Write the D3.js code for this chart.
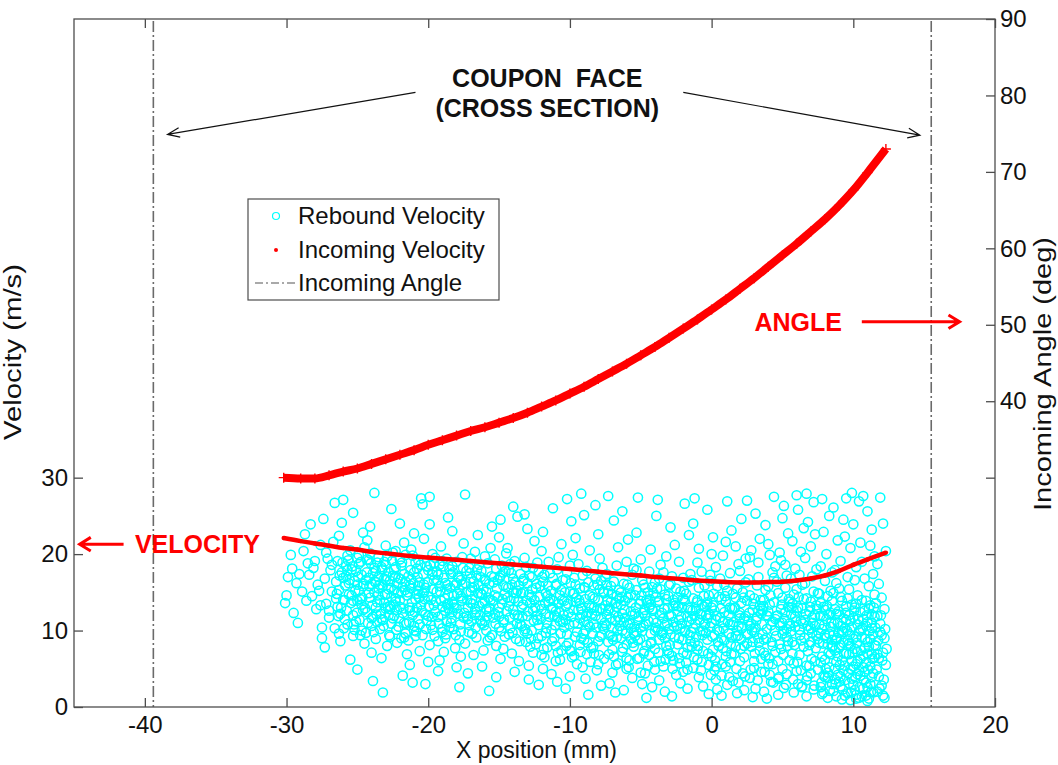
<!DOCTYPE html>
<html>
<head>
<meta charset="utf-8">
<script src="https://cdn.jsdelivr.net/npm/d3@7"></script>
<style>
  body { margin: 0; background: #fff; }
  text { font-family: Arial, "Liberation Sans", sans-serif; fill: #111; }
  .tick text { font-size: 24px; }
</style>
</head>
<body>
<svg width="1058" height="765"></svg>
<script>

//tick values for the axes
const xTicks = [-40, -30, -20, -10, 0, 10, 20];
const velocityTicks = [0, 10, 20, 30];
const angleTicks = [10, 20, 30, 40, 50, 60, 70, 80, 90];
const angleLabelMin = 40;

//coupon face edges (mm)
const couponEdges = [-39.4, 15.5];

//incoming velocity and angle
const incomingX = [-30.2, -29, -28, -27, -26, -25, -24, -23, -22, -21, -20, -19, -18, -17, -16, -15, -14, -13, -12, -11,
  -10, -9, -8, -7, -6, -5, -4, -3, -2, -1, 0, 1, 2, 3, 4, 5, 6, 7, 8, 9, 10, 11, 12.3];
const incomingVelocity = [22.1, 21.7, 21.4, 21.1, 20.8, 20.6, 20.3, 20.1, 19.9, 19.7, 19.55, 19.4, 19.25, 19.1, 18.95, 18.8,
  18.65, 18.5, 18.35, 18.2, 18.05, 17.9, 17.7, 17.5, 17.35, 17.2, 17.0, 16.85, 16.7, 16.55, 16.45, 16.35, 16.3, 16.3,
  16.35, 16.4, 16.55, 16.8, 17.2, 17.8, 18.6, 19.3, 20.2];
const incomingAngle = [30.0, 29.9, 29.9, 30.3, 30.8, 31.2, 31.8, 32.4, 33.0, 33.6, 34.3, 34.9, 35.5, 36.1, 36.6, 37.2, 37.8,
  38.5, 39.3, 40.1, 41.0, 41.9, 42.9, 43.9, 44.9, 46.0, 47.1, 48.3, 49.5, 50.7, 52.0, 53.3, 54.7, 56.1, 57.6, 59.1, 60.6,
  62.2, 63.8, 65.6, 67.6, 69.9, 73.0];

//rebound velocity points [x (mm), velocity (m/s)]
const rebound = [
[-30.1,13.6],[-30.0,14.6],[-29.9,17.0],[-29.7,19.9],[-29.6,18.1],[-29.5,12.3],
[-29.3,16.2],[-29.1,17.4],[-28.9,15.1],[-28.8,20.4],[-28.6,13.9],[-28.5,18.8],[-29.2,11.0],[-28.7,22.6],
[-28.4,17.3],[-28.2,14.5],[-28.0,19.1],[-27.9,12.8],[-27.8,16.0],[-27.6,21.2],[-27.5,10.4],[-28.3,23.9],[-27.7,15.2],[-28.1,18.2],[-27.6,13.3],[-27.5,9.0],
[-27.4,24.6],[-27.3,16.8],[-27.2,13.5],[-27.1,19.4],[-27.0,11.7],[-26.9,17.9],[-26.8,15.1],[-26.7,21.6],[-26.6,26.7],[-26.5,14.2],[-27.3,7.8],[-27.0,12.6],[-26.8,18.6],[-26.6,10.3],[-26.5,16.4],[-27.2,20.2],
[-26.4,19.1],[-26.3,15.3],[-26.2,12.2],[-26.1,17.6],[-26.0,27.1],[-25.9,14.0],[-25.8,18.4],[-25.7,10.8],[-25.6,16.2],[-25.5,20.5],[-26.4,13.1],[-26.2,8.6],[-26.0,16.9],[-25.9,11.5],[-25.7,19.8],[-25.6,14.7],[-25.5,6.2],[-26.3,22.4],[-25.8,17.1],[-26.1,24.1],
[-25.4,18.0],[-25.3,13.9],[-25.2,16.5],[-25.1,11.2],[-25.0,19.5],[-24.9,15.2],[-24.8,9.4],[-24.7,17.3],[-24.6,12.7],[-24.5,20.9],[-25.4,14.6],[-25.2,10.1],[-25.0,16.0],[-24.9,18.7],[-24.7,13.4],[-24.6,22.8],[-24.5,8.3],[-25.3,25.4],[-25.1,17.8],[-24.8,14.1],[-25.0,4.9],[-24.6,15.8],[-25.3,12.0],[-24.9,19.9],
[-24.4,16.6],[-24.3,12.4],[-24.2,19.2],[-24.1,14.3],[-24.0,10.6],[-23.9,17.5],[-23.8,28.0],[-23.7,13.0],[-23.6,18.9],[-23.5,15.5],[-24.4,9.7],[-24.2,14.9],[-24.1,20.1],[-24.0,16.1],[-23.9,11.8],[-23.8,18.2],[-23.7,8.9],[-23.6,13.7],[-23.5,17.0],[-24.3,21.8],[-24.0,7.1],[-23.8,15.0],[-23.6,11.1],[-23.5,19.6],[-24.2,16.9],[-23.9,3.4],[-24.1,23.6],[-23.7,16.3],
[-23.4,14.0],[-23.3,18.3],[-23.2,11.4],[-23.1,16.8],[-23.0,12.9],[-22.9,19.7],[-22.8,15.4],[-22.7,9.2],[-22.6,25.9],[-22.5,17.2],[-23.4,10.2],[-23.2,15.9],[-23.1,13.6],[-23.0,18.6],[-22.9,8.0],[-22.8,12.0],[-22.7,16.5],[-22.6,14.4],[-22.5,20.2],[-23.3,6.4],[-23.0,21.1],[-22.8,17.7],[-22.6,10.9],[-23.2,1.9],[-22.9,14.8],[-23.1,19.0],[-22.7,13.2],[-22.5,11.6],
[-22.4,18.0],[-22.3,13.8],[-22.2,16.2],[-22.1,10.5],[-22.0,19.3],[-21.9,15.0],[-21.8,12.3],[-21.7,17.4],[-21.6,9.6],[-21.5,14.6],[-22.4,11.9],[-22.3,20.4],[-22.2,8.4],[-22.1,16.9],[-22.0,13.1],[-21.9,18.5],[-21.8,15.7],[-21.7,11.0],[-21.6,19.9],[-21.5,6.9],[-22.3,14.2],[-22.0,24.0],[-21.8,4.1],[-21.6,16.4],[-22.2,12.7],[-21.9,9.0],[-21.7,21.5],[-22.4,15.3],
[-21.4,17.1],[-21.3,12.6],[-21.2,15.5],[-21.1,19.8],[-21.0,10.0],[-20.9,14.1],[-20.8,18.1],[-20.7,11.5],[-20.6,16.3],[-20.5,13.4],[-21.4,8.7],[-21.3,15.9],[-21.2,20.6],[-21.1,12.0],[-21.0,17.6],[-20.9,9.3],[-20.8,14.8],[-20.7,19.2],[-20.6,10.8],[-20.5,27.3],[-21.3,5.5],[-21.0,22.7],[-20.8,13.0],[-20.6,7.3],[-21.2,16.7],[-20.9,18.9],[-21.1,3.2],[-20.7,15.2],
[-20.4,26.5],[-20.3,16.0],[-20.2,12.1],[-20.1,18.4],[-20.0,14.5],[-19.9,27.5],[-19.8,10.7],[-19.7,17.3],[-19.6,13.3],[-19.5,19.5],[-20.4,9.4],[-20.2,15.6],[-20.1,11.3],[-20.0,17.9],[-19.9,8.1],[-19.8,14.0],[-19.7,20.0],[-19.6,16.6],[-19.5,12.4],[-20.3,22.0],[-20.0,5.9],[-19.7,10.1],[-19.9,23.9],[-20.2,3.0],[-19.6,18.8],[-20.4,14.9],
[-19.4,15.1],[-19.3,11.8],[-19.2,18.6],[-19.1,13.9],[-19.0,9.8],[-18.9,16.9],[-18.8,12.6],[-18.7,19.4],[-18.6,14.7],[-18.5,10.4],[-19.4,17.7],[-19.3,8.6],[-19.2,15.8],[-19.1,21.0],[-19.0,13.1],[-18.9,7.2],[-18.8,16.2],[-18.7,11.2],[-18.6,24.8],[-18.5,18.0],[-19.3,4.7],[-19.0,19.1],[-18.8,9.0],[-18.6,13.5],[-19.2,6.1],[-18.7,15.4],
[-18.4,17.4],[-18.3,13.7],[-18.2,10.2],[-18.1,15.9],[-18.0,19.0],[-17.9,12.2],[-17.8,8.8],[-17.7,16.6],[-17.6,14.2],[-17.5,21.4],[-18.4,11.0],[-18.3,18.4],[-18.2,14.6],[-18.1,7.7],[-18.0,12.9],[-17.9,17.1],[-17.8,15.3],[-17.7,9.9],[-17.6,19.6],[-17.5,11.7],[-18.3,23.0],[-18.0,5.2],[-17.8,2.6],[-17.6,16.0],[-18.2,13.4],[-17.7,6.6],
[-17.4,27.8],[-17.3,15.0],[-17.2,11.5],[-17.1,18.2],[-17.0,13.6],[-16.9,9.6],[-16.8,16.4],[-16.7,20.3],[-16.6,12.4],[-16.5,14.9],[-17.4,8.3],[-17.3,17.8],[-17.2,13.0],[-17.1,10.7],[-17.0,19.4],[-16.9,15.6],[-16.8,6.8],[-16.7,12.0],[-16.6,17.2],[-16.5,22.5],[-17.2,4.4],[-16.9,14.1],[-16.6,9.1],[-17.0,16.8],
[-16.4,13.2],[-16.3,17.0],[-16.2,10.9],[-16.1,15.4],[-16.0,19.7],[-15.9,12.8],[-15.8,8.7],[-15.7,16.1],[-15.6,14.0],[-15.5,23.6],[-16.4,18.6],[-16.3,11.3],[-16.2,14.7],[-16.1,7.4],[-16.0,16.7],[-15.9,10.0],[-15.8,18.8],[-15.7,12.5],[-15.6,20.8],[-15.5,9.4],[-16.2,5.3],[-15.9,15.1],[-15.7,2.1],[-16.0,13.8],
[-15.4,16.3],[-15.3,12.2],[-15.2,18.1],[-15.1,14.4],[-15.0,10.4],[-14.9,24.5],[-14.8,13.5],[-14.7,17.6],[-14.6,9.2],[-14.5,15.7],[-15.4,11.7],[-15.3,19.3],[-15.2,8.0],[-15.1,16.6],[-15.0,13.0],[-14.9,6.3],[-14.8,18.5],[-14.7,11.1],[-14.6,14.8],[-14.5,20.1],[-15.2,3.9],[-14.9,17.2],[-14.7,7.6],[-15.0,22.2],
[-14.4,14.3],[-14.3,17.9],[-14.2,10.3],[-14.1,16.0],[-14.0,12.7],[-13.9,19.1],[-13.8,8.9],[-13.7,15.2],[-13.6,11.6],[-13.5,17.4],[-14.4,20.8],[-14.3,9.5],[-14.2,13.9],[-14.1,7.0],[-14.0,16.8],[-13.9,12.1],[-13.8,14.9],[-13.7,24.9],[-13.6,6.0],[-13.5,10.8],[-14.2,18.7],[-13.9,4.6],[-13.6,15.9],[-14.0,26.2],
[-13.4,13.1],[-13.3,16.5],[-13.2,9.9],[-13.1,18.3],[-13.0,11.9],[-12.9,14.7],[-12.8,7.9],[-12.7,17.0],[-12.6,12.6],[-12.5,21.7],[-13.4,10.6],[-13.3,15.0],[-13.2,19.5],[-13.1,8.5],[-13.0,16.2],[-12.9,5.4],[-12.8,13.6],[-12.7,10.0],[-12.6,18.2],[-12.5,14.0],[-13.2,25.2],[-12.9,3.6],[-12.6,7.1],[-13.0,23.3],
[-12.4,15.6],[-12.3,11.4],[-12.2,17.7],[-12.1,13.3],[-12.0,9.3],[-11.9,16.4],[-11.8,6.5],[-11.7,12.2],[-11.6,14.5],[-11.5,19.0],[-12.4,8.2],[-12.3,18.9],[-12.2,10.7],[-12.1,15.8],[-12.0,12.8],[-11.9,5.0],[-11.8,17.3],[-11.7,9.7],[-11.6,11.0],[-11.5,13.8],[-12.2,2.9],[-11.9,22.9],[-11.6,7.8],[-12.0,20.4],
[-11.4,14.2],[-11.3,10.1],[-11.2,16.9],[-11.1,12.0],[-11.0,8.0],[-10.9,18.0],[-10.8,13.5],[-10.7,6.2],[-10.6,15.3],[-10.5,11.1],[-11.4,17.5],[-11.3,4.3],[-11.2,13.0],[-11.1,9.0],[-11.0,15.9],[-10.9,11.7],[-10.8,19.6],[-10.7,14.6],[-10.6,7.4],[-10.5,16.6],[-11.2,26.0],[-10.9,3.3],[-10.6,21.3],[-11.0,12.5],
[-10.4,13.9],[-10.3,16.7],[-10.2,9.5],[-10.1,12.3],[-10.0,18.5],[-9.9,7.3],[-9.8,14.8],[-9.7,11.0],[-9.6,16.0],[-9.5,5.6],[-10.4,10.4],[-10.3,13.2],[-10.2,17.6],[-10.1,8.4],[-10.0,15.1],[-9.9,11.8],[-9.8,19.9],[-9.7,6.7],[-9.6,13.7],[-9.5,9.8],[-10.2,27.2],[-9.9,24.3],[-10.3,2.4],[-9.7,16.9],[-10.0,4.0],[-9.6,22.1],
[-9.4,12.7],[-9.3,15.5],[-9.2,9.0],[-9.1,17.2],[-9.0,11.2],[-8.9,14.1],[-8.8,6.9],[-8.7,16.3],[-8.6,10.5],[-8.5,13.0],[-9.4,18.7],[-9.3,8.1],[-9.2,12.9],[-9.1,5.2],[-9.0,15.7],[-8.9,10.0],[-8.8,17.8],[-8.7,12.4],[-8.6,14.6],[-8.5,7.7],[-9.2,27.9],[-8.9,3.7],[-8.6,20.5],[-9.0,25.1],[-8.7,1.6],[-9.3,11.6],
[-8.4,14.4],[-8.3,10.9],[-8.2,16.8],[-8.1,12.6],[-8.0,8.6],[-7.9,15.4],[-7.8,11.5],[-7.7,18.2],[-7.6,6.3],[-7.5,13.3],[-8.4,9.6],[-8.3,15.9],[-8.2,11.9],[-8.1,4.8],[-8.0,14.0],[-7.9,9.2],[-7.8,16.5],[-7.7,12.8],[-7.6,10.2],[-7.5,17.0],[-8.2,26.4],[-7.8,2.8],[-8.0,22.6],[-7.6,14.9],[-8.3,7.0],[-7.9,19.4],
[-7.4,12.1],[-7.3,15.2],[-7.2,9.4],[-7.1,13.8],[-7.0,7.5],[-6.9,16.4],[-6.8,11.3],[-6.7,14.5],[-6.6,5.7],[-6.5,10.6],[-7.4,17.4],[-7.3,8.5],[-7.2,12.9],[-7.1,15.8],[-7.0,10.3],[-6.9,6.6],[-6.8,13.6],[-6.7,18.5],[-6.6,11.8],[-6.5,14.2],[-7.2,3.1],[-6.9,24.4],[-7.3,27.6],[-6.6,20.9],[-7.0,4.5],[-6.7,9.1],[-7.4,16.0],[-6.8,1.9],
[-6.4,13.4],[-6.3,10.0],[-6.2,16.1],[-6.1,11.7],[-6.0,8.2],[-5.9,14.3],[-5.8,6.1],[-5.7,12.5],[-5.6,17.3],[-5.5,9.7],[-6.4,15.0],[-6.3,7.2],[-6.2,11.1],[-6.1,13.9],[-6.0,5.0],[-5.9,10.8],[-5.8,15.6],[-5.7,8.9],[-5.6,12.0],[-5.5,18.1],[-6.2,2.2],[-5.9,21.9],[-6.3,25.6],[-5.6,3.8],[-6.0,19.0],[-5.7,14.7],[-6.4,9.0],[-5.5,7.9],
[-5.4,12.2],[-5.3,15.3],[-5.2,8.7],[-5.1,13.5],[-5.0,10.4],[-4.9,16.6],[-4.8,7.0],[-4.7,11.9],[-4.6,14.0],[-4.5,5.4],[-5.4,9.3],[-5.3,17.9],[-5.2,11.3],[-5.1,6.4],[-5.0,13.9],[-4.9,9.9],[-4.8,16.0],[-4.7,12.7],[-4.6,8.1],[-4.5,15.0],[-5.2,27.4],[-4.9,3.0],[-5.3,22.8],[-4.6,1.2],[-5.0,19.3],[-4.7,4.4],[-5.4,14.6],[-4.8,10.6],
[-4.4,13.0],[-4.3,9.6],[-4.2,15.7],[-4.1,11.4],[-4.0,7.6],[-3.9,14.4],[-3.8,10.1],[-3.7,16.8],[-3.6,6.0],[-3.5,12.3],[-4.4,17.7],[-4.3,8.3],[-4.2,12.8],[-4.1,14.9],[-4.0,4.9],[-3.9,11.0],[-3.8,13.7],[-3.7,8.8],[-3.6,15.4],[-3.5,9.4],[-4.2,2.6],[-3.9,25.0],[-4.3,20.6],[-3.6,18.6],[-4.0,16.3],[-3.7,3.5],[-4.4,6.8],[-3.8,27.1],
[-3.4,11.6],[-3.3,14.7],[-3.2,8.0],[-3.1,12.9],[-3.0,10.2],[-2.9,16.1],[-2.8,6.7],[-2.7,13.2],[-2.6,9.1],[-2.5,15.5],[-3.4,5.3],[-3.3,10.7],[-3.2,14.1],[-3.1,7.4],[-3.0,12.0],[-2.9,9.5],[-2.8,17.1],[-2.7,11.1],[-2.6,13.6],[-2.5,4.2],[-3.2,19.7],[-2.9,23.5],[-3.3,2.0],[-2.6,21.2],[-3.0,15.9],[-2.7,6.1],[-3.4,17.6],[-2.8,1.4],
[-2.4,12.5],[-2.3,9.0],[-2.2,15.1],[-2.1,10.9],[-2.0,7.1],[-1.9,13.9],[-1.8,5.8],[-1.7,11.8],[-1.6,16.4],[-1.5,8.6],[-2.4,14.3],[-2.3,6.4],[-2.2,10.3],[-2.1,13.0],[-2.0,4.6],[-1.9,9.8],[-1.8,14.8],[-1.7,7.8],[-1.6,11.2],[-1.5,17.4],[-2.2,3.1],[-1.9,26.6],[-2.3,19.0],[-1.6,22.5],[-2.0,16.9],[-1.7,2.4],[-2.4,8.2],[-1.5,12.7],
[-1.4,11.5],[-1.3,14.2],[-1.2,8.4],[-1.1,12.8],[-1.0,6.2],[-0.9,15.6],[-0.8,9.9],[-0.7,13.4],[-0.6,7.3],[-0.5,10.8],[-1.4,16.6],[-1.3,5.1],[-1.2,11.9],[-1.1,9.2],[-1.0,14.0],[-0.9,3.9],[-0.8,12.2],[-0.7,17.7],[-0.6,10.0],[-0.5,13.1],[-1.2,27.3],[-0.9,20.7],[-1.3,24.0],[-0.6,2.7],[-1.0,18.9],[-0.7,5.9],[-1.4,7.9],[-0.5,15.9],
[-0.4,12.0],[-0.3,8.8],[-0.2,14.6],[-0.1,10.5],[0.0,6.6],[0.1,13.3],[0.2,4.8],[0.3,11.4],[0.4,15.8],[0.5,8.0],[-0.4,9.7],[-0.3,13.7],[-0.2,5.5],[-0.1,16.5],[0.0,11.0],[0.1,7.5],[0.2,12.6],[0.3,3.6],[0.4,10.1],[0.5,14.4],[-0.2,1.7],[0.1,22.2],[0.3,18.3],[-0.3,25.8],[0.0,20.0],[0.4,2.3],[0.2,9.4],[-0.1,17.3],
[0.6,11.7],[0.7,14.1],[0.8,7.7],[0.9,12.4],[1.0,5.3],[1.1,15.2],[1.2,9.6],[1.3,13.0],[1.4,6.9],[1.5,10.7],[0.6,16.8],[0.7,4.1],[0.8,11.1],[0.9,8.7],[1.0,13.8],[1.1,2.9],[1.2,12.0],[1.3,17.5],[1.4,9.1],[1.5,14.8],[0.8,19.8],[1.1,26.9],[1.4,23.1],[0.7,1.5],[1.0,21.6],[1.3,5.9],[0.9,16.0],[1.5,3.4],
[1.6,12.9],[1.7,9.3],[1.8,15.5],[1.9,10.6],[2.0,6.0],[2.1,13.6],[2.2,4.4],[2.3,11.6],[2.4,16.3],[2.5,8.3],[1.6,7.0],[1.7,14.3],[1.8,10.0],[1.9,3.2],[2.0,12.3],[2.1,8.9],[2.2,15.0],[2.3,6.5],[2.4,11.9],[2.5,13.9],[1.8,1.8],[2.1,24.6],[2.4,19.4],[1.7,21.0],[2.0,17.8],[2.3,2.2],[1.9,18.7],[2.5,27.0],
[2.6,11.3],[2.7,14.6],[2.8,7.9],[2.9,12.7],[3.0,5.1],[3.1,10.4],[3.2,15.9],[3.3,9.0],[3.4,13.2],[3.5,6.3],[2.6,16.7],[2.7,3.8],[2.8,10.9],[2.9,8.5],[3.0,14.2],[3.1,2.4],[3.2,11.8],[3.3,17.0],[3.4,7.4],[3.5,12.2],[2.8,20.5],[3.1,25.3],[3.4,22.0],[2.9,1.3],[3.3,18.9],[3.0,9.8],[2.7,19.6],[3.5,4.6],
[3.6,12.6],[3.7,8.8],[3.8,15.3],[3.9,10.2],[4.0,5.6],[4.1,13.4],[4.2,3.3],[4.3,11.2],[4.4,16.9],[4.5,7.2],[3.6,9.5],[3.7,14.0],[3.8,6.7],[3.9,12.0],[4.0,15.8],[4.1,4.2],[4.2,10.7],[4.3,8.0],[4.4,13.7],[4.5,11.5],[3.8,23.8],[4.1,19.9],[4.4,27.5],[3.7,2.0],[4.0,21.3],[4.3,17.6],[3.9,1.1],[4.5,18.4],
[4.6,11.9],[4.7,14.9],[4.8,8.2],[4.9,12.8],[5.0,5.0],[5.1,10.0],[5.2,15.6],[5.3,9.2],[5.4,13.1],[5.5,6.1],[4.6,16.4],[4.7,3.7],[4.8,11.0],[4.9,7.6],[5.0,14.3],[5.1,2.5],[5.2,12.4],[5.3,17.2],[5.4,8.6],[5.5,10.9],[4.8,20.2],[5.0,24.7],[5.2,18.6],[5.4,22.7],[4.7,1.6],[5.1,26.3],[5.3,4.3],[4.9,19.2],[5.5,13.8],[5.0,9.6],
[5.6,12.1],[5.7,8.5],[5.8,14.7],[5.9,10.5],[6.0,4.7],[6.1,13.0],[6.2,6.8],[6.3,11.3],[6.4,16.0],[6.5,7.9],[5.6,9.9],[5.7,13.5],[5.8,5.7],[5.9,11.8],[6.0,15.4],[6.1,3.0],[6.2,10.1],[6.3,8.7],[6.4,12.9],[6.5,14.1],[5.7,21.7],[5.9,18.1],[6.1,25.8],[6.3,20.3],[6.5,23.4],[5.8,1.9],[6.2,17.3],[6.4,2.7],[6.0,27.7],[5.6,16.8],
[6.6,11.4],[6.7,14.2],[6.8,7.3],[6.9,12.5],[7.0,4.4],[7.1,9.7],[7.2,15.1],[7.3,6.0],[7.4,13.3],[7.5,8.9],[6.6,16.2],[6.7,3.5],[6.8,10.6],[6.9,5.4],[7.0,13.8],[7.1,11.7],[7.2,2.3],[7.3,12.0],[7.4,9.3],[7.5,14.9],[6.6,19.5],[6.8,24.2],[7.0,21.0],[7.2,26.8],[7.4,18.0],[6.7,1.4],[7.1,17.1],[7.3,22.6],[6.9,8.1],[7.5,4.9],[7.0,10.3],[6.7,27.9],
[7.6,10.8],[7.7,13.6],[7.8,6.6],[7.9,11.9],[8.0,3.9],[8.1,9.0],[8.2,14.5],[8.3,5.2],[8.4,12.3],[8.5,7.8],[7.6,8.4],[7.7,2.6],[7.8,10.2],[7.9,13.1],[8.0,6.2],[8.1,11.5],[8.2,4.5],[8.3,9.6],[8.4,15.2],[8.5,3.0],[7.6,14.8],[7.8,1.7],[8.0,12.7],[8.2,8.2],[8.4,10.5],[7.7,18.4],[7.9,22.9],[8.1,20.0],[8.3,25.0],[8.5,17.6],[7.8,27.2],[8.2,1.2],[8.0,16.5],[8.4,6.9],[7.9,4.1],[8.5,13.9],
[8.6,9.4],[8.7,12.8],[8.8,5.9],[8.9,11.0],[9.0,3.3],[9.1,8.1],[9.2,13.9],[9.3,4.8],[9.4,10.3],[9.5,7.0],[8.6,2.1],[8.7,7.4],[8.8,12.2],[8.9,4.2],[9.0,9.7],[9.1,14.4],[9.2,6.1],[9.3,11.6],[9.4,1.5],[9.5,13.2],[8.6,14.9],[8.7,3.6],[8.8,8.8],[8.9,6.6],[9.0,12.1],[9.1,2.7],[9.2,10.0],[9.3,8.4],[9.4,5.4],[9.5,11.4],[8.7,17.9],[8.9,21.8],[9.1,19.1],[9.3,24.5],[9.5,27.3],[8.8,16.2],[9.2,1.0],[9.0,15.5],[9.4,22.3],[8.6,26.1],
[9.6,8.7],[9.7,12.0],[9.8,5.0],[9.9,10.4],[10.0,2.9],[10.1,7.6],[10.2,13.5],[10.3,4.3],[10.4,9.9],[10.5,6.3],[9.6,1.8],[9.7,6.9],[9.8,11.3],[9.9,3.7],[10.0,8.9],[10.1,13.0],[10.2,5.6],[10.3,10.8],[10.4,1.2],[10.5,12.4],[9.6,14.2],[9.7,3.1],[9.8,8.0],[9.9,6.0],[10.0,11.7],[10.1,2.2],[10.2,9.2],[10.3,7.2],[10.4,4.7],[10.5,10.1],[9.6,17.0],[9.8,20.8],[10.0,23.9],[10.2,18.3],[10.4,26.9],[9.7,15.4],[10.1,16.6],[10.3,14.6],[9.9,28.0],[10.5,21.5],[9.8,0.9],[10.2,1.6],
[10.6,9.1],[10.7,11.5],[10.8,4.6],[10.9,10.6],[11.0,2.6],[11.1,7.9],[11.2,13.3],[11.3,3.9],[11.4,9.5],[11.5,6.5],[10.6,1.4],[10.7,6.7],[10.8,12.6],[10.9,3.2],[11.0,8.5],[11.1,12.9],[11.2,5.3],[11.3,10.3],[11.4,1.9],[11.5,11.8],[10.6,14.0],[10.7,2.4],[10.8,7.7],[10.9,5.8],[11.0,11.1],[11.1,1.1],[11.2,8.9],[11.3,6.9],[11.4,4.4],[11.5,14.7],[10.6,19.0],[10.8,16.8],[11.0,25.6],[11.2,21.1],[11.4,17.4],[10.7,27.6],[11.1,15.8],[11.3,23.2],[10.9,13.9],[11.5,19.7],[11.0,0.8],[11.3,12.1],
[11.6,8.0],[11.7,11.9],[11.8,4.0],[11.9,9.8],[12.0,2.8],[12.1,7.1],[12.2,12.8],[12.3,5.5],[11.6,13.6],[11.7,2.0],[11.8,6.4],[11.9,10.9],[12.0,14.3],[12.1,1.5],[12.2,9.0],[11.7,18.7],[11.9,27.4],[12.1,24.0],[12.3,20.4],[11.8,16.1],
//denser core of the cloud
[-26.45,14.8],[-26.35,11.9],[-26.25,17.2],[-26.15,13.0],[-26.05,18.9],[-25.95,10.3],[-25.85,15.9],[-25.75,12.6],[-25.65,19.2],[-25.55,16.6],[-26.3,9.6],[-26.0,14.0],[-25.7,17.9],
[-25.45,13.6],[-25.35,18.4],[-25.25,10.8],[-25.15,15.2],[-25.05,12.3],[-24.95,17.0],[-24.85,11.4],[-24.75,19.0],[-24.65,14.3],[-24.55,16.1],[-25.3,9.3],[-25.0,13.9],[-24.7,10.0],
[-24.45,12.9],[-24.35,17.6],[-24.25,11.0],[-24.15,15.8],[-24.05,18.8],[-23.95,13.3],[-23.85,9.8],[-23.75,16.4],[-23.65,12.1],[-23.55,14.6],[-24.3,19.3],[-24.0,11.6],[-23.7,17.8],
[-23.45,16.0],[-23.35,12.2],[-23.25,18.0],[-23.15,10.6],[-23.05,14.7],[-22.95,17.1],[-22.85,13.1],[-22.75,9.4],[-22.65,15.6],[-22.55,19.1],[-23.3,11.5],[-23.0,16.6],[-22.7,12.8],
[-22.45,13.4],[-22.35,17.0],[-22.25,10.1],[-22.15,14.9],[-22.05,11.6],[-21.95,16.7],[-21.85,18.9],[-21.75,12.9],[-21.65,15.3],[-21.55,10.9],[-22.3,18.3],[-22.0,14.0],[-21.7,9.1],
[-21.45,15.0],[-21.35,11.1],[-21.25,17.9],[-21.15,13.7],[-21.05,16.2],[-20.95,12.4],[-20.85,9.9],[-20.75,17.0],[-20.65,14.3],[-20.55,18.6],[-21.3,13.0],[-21.0,10.6],[-20.7,15.8],
[-20.45,12.6],[-20.35,17.4],[-20.25,14.1],[-20.15,10.2],[-20.05,16.3],[-19.95,13.2],[-19.85,18.6],[-19.75,11.8],[-19.65,15.4],[-19.55,9.3],[-20.3,15.0],[-20.0,11.9],[-19.7,17.7],
[-19.45,13.8],[-19.35,16.6],[-19.25,10.9],[-19.15,15.1],[-19.05,12.0],[-18.95,18.4],[-18.85,14.2],[-18.75,9.5],[-18.65,16.0],[-18.55,12.9],[-19.3,17.3],[-19.0,10.3],[-18.7,13.4],
[-18.45,15.6],[-18.35,11.6],[-18.25,17.6],[-18.15,13.0],[-18.05,9.4],[-17.95,14.8],[-17.85,16.9],[-17.75,10.8],[-17.65,13.9],[-17.55,18.2],[-18.3,12.4],[-18.0,16.2],[-17.7,14.5],
[-17.45,12.3],[-17.35,16.2],[-17.25,14.0],[-17.15,9.8],[-17.05,17.5],[-16.95,11.2],[-16.85,13.5],[-16.75,15.7],[-16.65,10.4],[-16.55,18.0],[-17.3,11.9],[-17.0,15.1],[-16.7,12.8],
[-16.45,15.9],[-16.35,12.0],[-16.25,17.8],[-16.15,13.6],[-16.05,10.7],[-15.95,16.5],[-15.85,11.9],[-15.75,14.3],[-15.65,9.1],[-15.55,17.1],[-16.3,14.9],[-16.0,11.3],[-15.7,13.0],
[-15.45,13.9],[-15.35,17.0],[-15.25,10.9],[-15.15,15.5],[-15.05,12.4],[-14.95,16.9],[-14.85,9.9],[-14.75,14.1],[-14.65,11.4],[-14.55,17.8],[-15.3,14.6],[-15.0,11.8],[-14.7,15.9],
[-14.45,12.5],[-14.35,15.6],[-14.25,11.7],[-14.15,17.5],[-14.05,9.7],[-13.95,14.2],[-13.85,16.3],[-13.75,10.9],[-13.65,13.8],[-13.55,8.6],[-14.3,13.2],[-14.0,15.0],[-13.7,12.0],
[-13.45,14.9],[-13.35,11.8],[-13.25,16.8],[-13.15,10.2],[-13.05,13.9],[-12.95,12.5],[-12.85,17.2],[-12.75,8.9],[-12.65,15.4],[-12.55,11.3],[-13.3,13.4],[-13.0,9.6],[-12.7,14.4],
[-12.45,13.0],[-12.35,16.1],[-12.25,9.0],[-12.15,14.4],[-12.05,11.5],[-11.95,17.0],[-11.85,7.6],[-11.75,13.6],[-11.65,10.3],[-11.55,15.8],[-12.3,12.0],[-12.0,6.8],[-11.7,14.9],
[-11.45,11.8],[-11.35,15.2],[-11.25,8.6],[-11.15,13.9],[-11.05,10.7],[-10.95,16.1],[-10.85,7.1],[-10.75,12.5],[-10.65,9.6],[-10.55,14.0],[-11.3,12.9],[-11.0,6.0],[-10.7,11.2],
[-10.45,12.0],[-10.35,15.0],[-10.25,8.0],[-10.15,13.5],[-10.05,10.8],[-9.95,16.2],[-9.85,6.5],[-9.75,12.7],[-9.65,9.2],[-9.55,14.3],[-10.3,11.4],[-10.0,7.4],[-9.7,14.9],
[-9.45,10.9],[-9.35,14.0],[-9.25,7.2],[-9.15,12.1],[-9.05,9.6],[-8.95,15.6],[-8.85,11.9],[-8.75,8.4],[-8.65,13.3],[-8.55,5.9],[-9.3,13.6],[-9.0,8.8],[-8.7,10.8],
[-8.45,12.2],[-8.35,7.9],[-8.25,14.2],[-8.15,10.4],[-8.05,16.0],[-7.95,6.8],[-7.85,12.9],[-7.75,9.4],[-7.65,15.1],[-7.55,11.0],[-8.3,13.0],[-8.0,5.6],[-7.7,10.6],
[-7.45,10.7],[-7.35,13.9],[-7.25,6.9],[-7.15,11.6],[-7.05,14.8],[-6.95,8.8],[-6.85,12.4],[-6.75,5.5],[-6.65,10.0],[-6.55,15.3],[-7.3,12.6],[-7.0,9.2],[-6.7,13.1],
[-6.45,11.4],[-6.35,14.4],[-6.25,7.7],[-6.15,12.7],[-6.05,9.6],[-5.95,16.0],[-5.85,5.2],[-5.75,11.0],[-5.65,13.6],[-5.55,8.4],[-6.3,12.2],[-6.0,6.4],[-5.7,10.3],
[-5.45,10.5],[-5.35,13.0],[-5.25,6.3],[-5.15,11.8],[-5.05,8.9],[-4.95,14.6],[-4.85,12.3],[-4.75,7.3],[-4.65,10.9],[-4.55,13.6],[-5.3,9.8],[-5.0,4.5],[-4.7,15.6],
[-4.45,11.2],[-4.35,14.1],[-4.25,8.5],[-4.15,12.6],[-4.05,5.9],[-3.95,10.4],[-3.85,15.5],[-3.75,7.1],[-3.65,12.0],[-3.55,9.9],[-4.3,13.4],[-4.0,10.0],[-3.7,13.9],
[-3.45,9.7],[-3.35,12.8],[-3.25,6.2],[-3.15,11.0],[-3.05,14.5],[-2.95,8.1],[-2.85,11.9],[-2.75,5.0],[-2.65,10.5],[-2.55,13.3],[-3.3,9.0],[-3.0,7.0],[-2.7,14.0],
[-2.45,10.6],[-2.35,13.2],[-2.25,5.7],[-2.15,11.8],[-2.05,8.8],[-1.95,15.2],[-1.85,10.0],[-1.75,6.9],[-1.65,13.0],[-1.55,9.4],[-2.3,11.4],[-2.0,14.2],[-1.7,4.9],
[-1.45,9.8],[-1.35,12.6],[-1.25,6.5],[-1.15,10.9],[-1.05,13.7],[-0.95,8.0],[-0.85,11.4],[-0.75,4.8],[-0.65,9.4],[-0.55,14.5],[-1.3,10.3],[-1.0,7.5],[-0.7,12.1],
[-0.45,10.9],[-0.35,13.4],[-0.25,7.0],[-0.15,12.1],[-0.05,4.2],[0.05,9.2],[0.15,14.8],[0.25,6.1],[0.35,11.9],[0.45,8.5],[-0.3,11.6],[0.0,13.0],[0.3,5.3],
[0.55,9.9],[0.65,12.9],[0.75,5.6],[0.85,10.3],[0.95,14.5],[1.05,7.3],[1.15,11.1],[1.25,3.9],[1.35,8.2],[1.45,12.8],[0.7,9.0],[1.0,6.6],[1.3,10.8],
[1.55,11.1],[1.65,13.0],[1.75,5.0],[1.85,9.3],[1.95,12.0],[2.05,7.6],[2.15,10.3],[2.25,14.3],[2.35,4.0],[2.45,9.6],[1.7,7.9],[2.0,11.6],[2.3,8.0],
[2.55,9.5],[2.65,12.3],[2.75,4.9],[2.85,10.0],[2.95,13.5],[3.05,7.0],[3.15,11.3],[3.25,3.5],[3.35,8.4],[3.45,14.0],[2.7,10.6],[3.0,6.0],[3.3,12.6],
[3.55,10.8],[3.65,13.2],[3.75,4.6],[3.85,9.0],[3.95,11.9],[4.05,6.4],[4.15,14.6],[4.25,8.5],[4.35,3.2],[4.45,10.0],[3.7,7.1],[4.0,12.5],[4.3,5.6],
[4.55,9.3],[4.65,12.0],[4.75,3.9],[4.85,10.6],[4.95,13.4],[5.05,6.8],[5.15,11.5],[5.25,2.9],[5.35,8.0],[5.45,14.1],[4.7,6.0],[5.0,11.0],[5.3,10.2],
[5.55,10.6],[5.65,13.0],[5.75,3.6],[5.85,8.1],[5.95,11.2],[6.05,5.9],[6.15,14.4],[6.25,9.4],[6.35,2.6],[6.45,10.9],[5.7,7.0],[6.0,12.6],[6.3,4.8],
[6.55,9.0],[6.65,12.2],[6.75,4.0],[6.85,10.1],[6.95,13.1],[7.05,6.3],[7.15,11.0],[7.25,2.8],[7.35,7.7],[7.45,12.8],[6.7,5.4],[7.0,8.5],[7.3,10.6],
[7.55,9.7],[7.65,11.9],[7.75,3.2],[7.85,8.3],[7.95,10.7],[8.05,5.0],[8.15,13.2],[8.25,7.1],[8.35,2.1],[8.45,11.0],[7.7,5.8],[8.0,9.4],[8.3,12.1],[7.9,1.9],[8.2,3.8],[8.5,8.8],
[8.55,8.0],[8.65,10.9],[8.75,3.0],[8.85,9.0],[8.95,12.5],[9.05,5.5],[9.15,10.6],[9.25,2.3],[9.35,7.0],[9.45,12.3],[8.7,5.0],[9.0,7.8],[9.3,9.8],[8.8,1.4],[9.1,4.0],[9.4,3.5],
[9.55,10.0],[9.65,4.4],[9.75,9.5],[9.85,1.9],[9.95,7.1],[10.05,12.6],[10.15,3.9],[10.25,8.4],[10.35,11.5],[10.45,2.6],[9.7,8.3],[10.0,5.3],[10.3,6.0],[9.9,13.4],[10.2,1.1],[10.5,4.1],
[10.55,7.4],[10.65,10.3],[10.75,3.5],[10.85,8.9],[10.95,12.0],[11.05,4.9],[11.15,9.9],[11.25,2.0],[11.35,6.3],[11.45,13.0],[10.7,5.2],[11.0,7.0],[11.3,11.0],[10.9,1.5],[11.2,3.0],[11.5,8.1],
[11.55,10.4],[11.65,4.9],[11.75,8.7],[11.85,2.4],[11.95,12.0],[12.05,6.1],[12.15,3.6],[12.25,10.2],[12.35,7.6],[11.7,6.9],[12.0,9.4],[12.2,1.2]
];

//annotation anchors in data units: [x mm, angle deg]
const couponArrows = [
  {from: [-20.9, 80.4], to: [-38.4, 74.9]},
  {from: [-2.0, 80.4], to: [14.7, 74.8]}
];
//red call-outs: velocity arrow on the left axis, angle arrow on the right axis
const velocityCallout = {from: -41.5, to: -44.6, value: 21.3, textX: -40.7};
const angleCallout = {from: 10.6, to: 17.5, value: 50.4, textX: 9.2};

const legendItems = ['Rebound Velocity', 'Incoming Velocity', 'Incoming Angle'];

const render = () => {

  //main svg variable
  const svg = d3.select('svg');

  //create the formatting, margins etc
  const height = +svg.attr('height');
  const width = +svg.attr('width');
  const margin = {top: 19, right: 63, bottom: 58, left: 74};
  const innerWidth = width - margin.left - margin.right;
  const innerHeight = height - margin.top - margin.bottom;

  const g = svg.append('g')
    .attr('transform', `translate(${margin.left}, ${margin.top})`);

  //scales: both y axes run 0..90 over the full height
  const xScale = d3.scaleLinear().domain([-45, 20]).range([0, innerWidth]);
  const yVel = d3.scaleLinear().domain([0, 90]).range([innerHeight, 0]);
  const yAng = d3.scaleLinear().domain([0, 90]).range([innerHeight, 0]);

  const axisColor = '#4d4d4d';

  //coupon face dash-dot lines
  g.selectAll('.edge')
    .data(couponEdges)
    .enter()
    .append('line')
      .attr('class', 'edge')
      .attr('x1', d => xScale(d))
      .attr('x2', d => xScale(d))
      .attr('y1', 2)
      .attr('y2', innerHeight)
      .attr('stroke', '#6a6a6a')
      .attr('stroke-width', 1.6)
      .attr('stroke-dasharray', '11,3,2,3');

  //rebound velocity circles
  g.append('g').selectAll('circle')
    .data(rebound)
    .enter()
    .append('circle')
      .attr('cx', d => xScale(d[0]))
      .attr('cy', d => yVel(d[1]))
      .attr('r', 4.6)
      .attr('fill', 'none')
      .attr('stroke', '#00ffff')
      .attr('stroke-width', 1.5);

  const incoming = incomingX.map((x, i) => ({x: x, v: incomingVelocity[i], a: incomingAngle[i]}));

  //incoming velocity: a dense run of red dots
  g.append('path')
    .datum(incoming)
    .attr('fill', 'none')
    .attr('stroke', '#ff0000')
    .attr('stroke-width', 4.5)
    .attr('d', d3.line().x(d => xScale(d.x)).y(d => yVel(d.v)).curve(d3.curveMonotoneX));

  g.append('g').selectAll('circle')
    .data(incoming)
    .enter()
    .append('circle')
      .attr('cx', d => xScale(d.x))
      .attr('cy', d => yVel(d.v))
      .attr('r', 2.2)
      .attr('fill', '#ff0000');

  //incoming angle: a dense run of red plus marks
  g.append('path')
    .datum(incoming)
    .attr('fill', 'none')
    .attr('stroke', '#ff0000')
    .attr('stroke-width', 8)
    .attr('d', d3.line().x(d => xScale(d.x)).y(d => yAng(d.a)).curve(d3.curveMonotoneX));

  g.append('g').selectAll('path')
    .data(incoming)
    .enter()
    .append('path')
      .attr('transform', d => `translate(${xScale(d.x)}, ${yAng(d.a)})`)
      .attr('d', 'M-5,0H5M0,-5V5')
      .attr('stroke', '#ff0000')
      .attr('stroke-width', 1.4);

  //axes, ticks pointing inwards like matlab, plain hyphen minus
  const fmt = d => String(d);
  const leftAxis = g.append('g')
    .call(d3.axisLeft(yVel).tickValues(velocityTicks).tickSizeInner(-9).tickSizeOuter(0).tickPadding(6).tickFormat(fmt));
  const bottomAxis = g.append('g')
    .attr('transform', `translate(0, ${innerHeight})`)
    .call(d3.axisBottom(xScale).tickValues(xTicks).tickSizeInner(-9).tickSizeOuter(0).tickPadding(9).tickFormat(fmt));
  const topAxis = g.append('g')
    .call(d3.axisTop(xScale).tickValues(xTicks).tickSizeInner(-9).tickSizeOuter(0).tickFormat(''));
  const rightAxis = g.append('g')
    .attr('transform', `translate(${innerWidth}, 0)`)
    .call(d3.axisRight(yAng).tickValues(angleTicks).tickSizeInner(-9).tickSizeOuter(0).tickPadding(5)
      .tickFormat(d => d >= angleLabelMin ? fmt(d) : ''));

  [leftAxis, bottomAxis, topAxis, rightAxis].forEach(a => {
    a.select('.domain').remove();
    a.selectAll('.tick line').attr('stroke', axisColor).attr('stroke-width', 1.3);
    a.selectAll('.tick text').attr('fill', '#111');
  });

  //box round the plot
  g.append('rect')
    .attr('width', innerWidth)
    .attr('height', innerHeight)
    .attr('fill', 'none')
    .attr('stroke', axisColor)
    .attr('stroke-width', 1.3);

  //axis titles
  g.append('text')
    .attr('x', innerWidth / 2 + 2)
    .attr('y', innerHeight + 51)
    .attr('text-anchor', 'middle')
    .attr('font-size', 23)
    .text('X position (mm)');

  g.append('text')
    .attr('transform', `translate(${-53}, ${333}) rotate(-90)`)
    .attr('text-anchor', 'middle')
    .attr('font-size', 23)
    .attr('textLength', 176)
    .attr('lengthAdjust', 'spacingAndGlyphs')
    .text('Velocity (m/s)');

  g.append('text')
    .attr('transform', `translate(${innerWidth + 56}, ${355}) rotate(-90)`)
    .attr('text-anchor', 'middle')
    .attr('font-size', 23)
    .attr('textLength', 274)
    .attr('lengthAdjust', 'spacingAndGlyphs')
    .text('Incoming Angle (deg)');

  //coupon face title and arrows
  const cx = xScale(-11.6);
  g.append('text')
    .attr('x', cx).attr('y', 68)
    .attr('text-anchor', 'middle')
    .attr('font-size', 25).attr('font-weight', 'bold')
    .attr('xml:space', 'preserve')
    .text('COUPON  FACE');
  g.append('text')
    .attr('x', cx).attr('y', 98)
    .attr('text-anchor', 'middle')
    .attr('font-size', 25).attr('font-weight', 'bold')
    .text('(CROSS SECTION)');

  const arrowHead = (x1, y1, x2, y2, len, spread) => {
    const ang = Math.atan2(y2 - y1, x2 - x1);
    const p1 = [x2 - len * Math.cos(ang - spread), y2 - len * Math.sin(ang - spread)];
    const p2 = [x2 - len * Math.cos(ang + spread), y2 - len * Math.sin(ang + spread)];
    return `M${x1},${y1}L${x2},${y2}M${p1[0]},${p1[1]}L${x2},${y2}L${p2[0]},${p2[1]}`;
  };

  g.selectAll('.coupon-arrow')
    .data(couponArrows)
    .enter()
    .append('path')
      .attr('class', 'coupon-arrow')
      .attr('fill', 'none')
      .attr('stroke', '#111')
      .attr('stroke-width', 1.2)
      .attr('d', d => arrowHead(xScale(d.from[0]), yAng(d.from[1]), xScale(d.to[0]), yAng(d.to[1]), 13, 0.38));

  //red call-outs
  const vy = yVel(velocityCallout.value);
  g.append('path')
    .attr('fill', 'none').attr('stroke', '#ff0000').attr('stroke-width', 3)
    .attr('d', arrowHead(xScale(velocityCallout.from), vy, xScale(velocityCallout.to), vy, 13, 0.55));
  g.append('text')
    .attr('x', xScale(velocityCallout.textX)).attr('y', vy + 9)
    .attr('font-size', 25).attr('font-weight', 'bold')
    .style('fill', '#ff0000')
    .text('VELOCITY');

  const ay = yAng(angleCallout.value);
  g.append('path')
    .attr('fill', 'none').attr('stroke', '#ff0000').attr('stroke-width', 3)
    .attr('d', arrowHead(xScale(angleCallout.from), ay, xScale(angleCallout.to), ay, 13, 0.55));
  g.append('text')
    .attr('x', xScale(angleCallout.textX)).attr('y', ay + 9)
    .attr('text-anchor', 'end')
    .attr('font-size', 25).attr('font-weight', 'bold')
    .style('fill', '#ff0000')
    .text('ANGLE');

  //legend
  const legend = svg.append('g').attr('transform', 'translate(248, 199)');
  legend.append('rect')
    .attr('width', 251).attr('height', 101)
    .attr('fill', '#fff')
    .attr('stroke', axisColor).attr('stroke-width', 1.2);

  legend.selectAll('text')
    .data(legendItems)
    .enter()
    .append('text')
      .attr('x', 50)
      .attr('y', (d, i) => 25 + i * 33.5)
      .attr('font-size', 24)
      .text(d => d);

  legend.append('circle')
    .attr('cx', 28).attr('cy', 17).attr('r', 3.5)
    .attr('fill', 'none').attr('stroke', '#00ffff').attr('stroke-width', 1.2);
  legend.append('circle')
    .attr('cx', 28).attr('cy', 51).attr('r', 2)
    .attr('fill', '#ff0000');
  legend.append('line')
    .attr('x1', 7).attr('x2', 49)
    .attr('y1', 84).attr('y2', 84)
    .attr('stroke', '#555').attr('stroke-width', 1.2)
    .attr('stroke-dasharray', '8,3,2,3');
};

render();
</script>
</body>
</html>
